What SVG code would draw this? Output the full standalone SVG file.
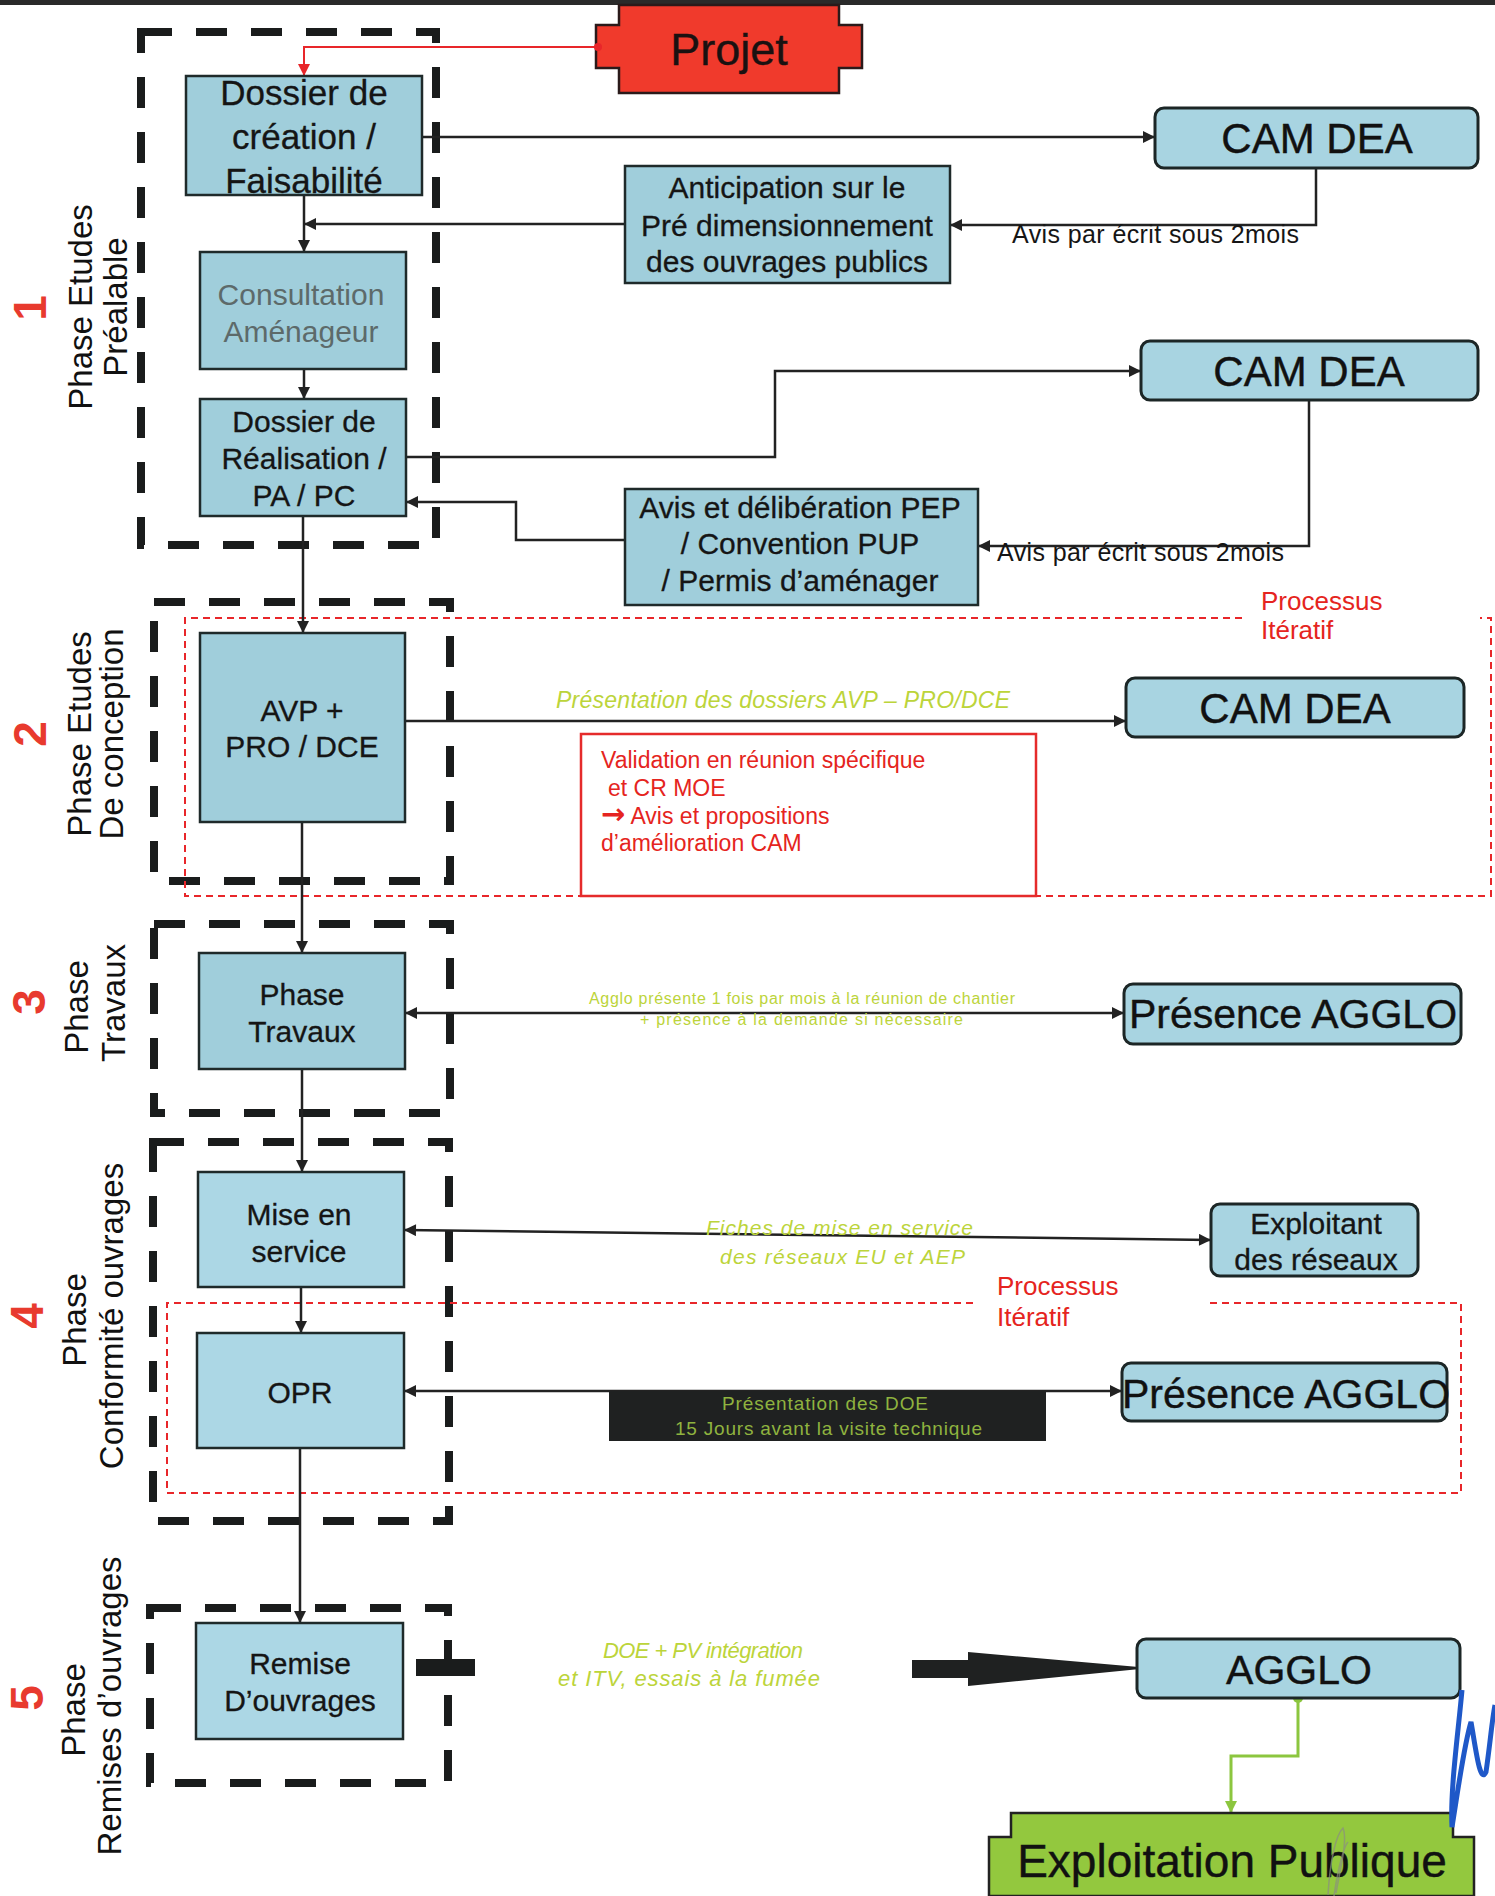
<svg xmlns="http://www.w3.org/2000/svg" width="1495" height="1896" viewBox="0 0 1495 1896">
<style>
text{font-family:"Liberation Sans",Arial,sans-serif;}
.bx{fill:#a0cedb;stroke:#1f2a2a;stroke-width:2.5;}
.bxl{fill:#acd7e5;stroke:#1f2a2a;stroke-width:2.5;}
.rb{fill:#a8d4e1;stroke:#1c2626;stroke-width:3;}
.t30{font-size:30px;fill:#151515;text-anchor:middle;stroke:#151515;stroke-width:0.3;}
.t35{font-size:35px;fill:#151515;text-anchor:middle;stroke:#151515;stroke-width:0.3;}
.big{font-size:42px;fill:#111;text-anchor:middle;stroke:#111;stroke-width:0.4;}
.ph{fill:none;stroke:#1a1c1c;stroke-width:8;stroke-dasharray:31 24;}
.it{fill:none;stroke:#e8262a;stroke-width:2;stroke-dasharray:7 5;}
.c{fill:none;stroke:#222;stroke-width:2.5;}
.lab{font-size:33px;fill:#111;text-anchor:middle;}
.num{font-size:46px;font-weight:bold;fill:#e83a2e;text-anchor:middle;}
.grn{fill:#bcd43a;}
.red{fill:#e52420;}
</style>
<defs>
<marker id="a" viewBox="0 0 10 10" refX="10" refY="5" markerWidth="14" markerHeight="12" markerUnits="userSpaceOnUse" orient="auto-start-reverse"><path d="M0,0 L10,5 L0,10 z" fill="#222"/></marker>
<marker id="ar" viewBox="0 0 10 10" refX="10" refY="5" markerWidth="14" markerHeight="12" markerUnits="userSpaceOnUse" orient="auto-start-reverse"><path d="M0,0 L10,5 L0,10 z" fill="#e8262a"/></marker>
<marker id="ag" viewBox="0 0 10 10" refX="10" refY="5" markerWidth="14" markerHeight="12" markerUnits="userSpaceOnUse" orient="auto-start-reverse"><path d="M0,0 L10,5 L0,10 z" fill="#8cc63f"/></marker>
</defs>
<rect x="0" y="0" width="1495" height="1896" fill="#ffffff"/>
<rect x="0" y="0" width="1495" height="5" fill="#2a2a2a"/>

<!-- phase frames -->
<g id="phase-frames">
<rect class="ph" x="141" y="32" width="295" height="513"/>
<rect class="ph" x="154" y="602" width="296" height="279"/>
<rect class="ph" x="154" y="924" width="296" height="189"/>
<rect class="ph" x="153" y="1142" width="296" height="379"/>
<rect class="ph" x="150" y="1608" width="298" height="175"/>
<path class="it" d="M1242,618 H185 V896 H1491 V618 H1480"/>
<path class="it" d="M973,1303 H167 V1493 H1461 V1303 H1207"/>
<rect x="416" y="1659" width="59" height="17" fill="#1a1c1c"/>
</g>

<!-- phase labels -->
<g id="phase-labels">
<text class="num" transform="translate(46,308) rotate(-90)">1</text>
<text class="lab" transform="translate(92,307) rotate(-90)">Phase Etudes</text>
<text class="lab" transform="translate(127,307) rotate(-90)">Préalable</text>
<text class="num" transform="translate(46,734) rotate(-90)">2</text>
<text class="lab" transform="translate(91,734) rotate(-90)">Phase Etudes</text>
<text class="lab" transform="translate(123,734) rotate(-90)">De conception</text>
<text class="num" transform="translate(45,1002) rotate(-90)">3</text>
<text class="lab" transform="translate(88,1007) rotate(-90)">Phase</text>
<text class="lab" transform="translate(125,1003) rotate(-90)">Travaux</text>
<text class="num" transform="translate(43,1316) rotate(-90)">4</text>
<text class="lab" transform="translate(86,1320) rotate(-90)">Phase</text>
<text class="lab" transform="translate(123,1316) rotate(-90)">Conformité ouvrages</text>
<text class="num" transform="translate(43,1698) rotate(-90)">5</text>
<text class="lab" transform="translate(85,1710) rotate(-90)">Phase</text>
<text class="lab" transform="translate(121,1706) rotate(-90)">Remises d’ouvrages</text>
</g>

<!-- connectors -->
<g id="connectors">
<path d="M596,47 H304 V76" fill="none" stroke="#e8262a" stroke-width="2" marker-end="url(#ar)"/>
<path class="c" d="M422,137 H1155" marker-end="url(#a)"/>
<path class="c" d="M1316,168 V225 H950" marker-end="url(#a)"/>
<path class="c" d="M625,224 H304" marker-end="url(#a)"/>
<path class="c" d="M304,195 V252" marker-end="url(#a)"/>
<path class="c" d="M304,369 V399" marker-end="url(#a)"/>
<path class="c" d="M406,457 H775 V371 H1141" marker-end="url(#a)"/>
<path class="c" d="M1309,400 V546 H978" marker-end="url(#a)"/>
<path class="c" d="M625,540 H516 V502 H406" marker-end="url(#a)"/>
<path class="c" d="M303,516 V633" marker-end="url(#a)"/>
<path class="c" d="M405,721 H1126" marker-end="url(#a)"/>
<path class="c" d="M302,822 V953" marker-end="url(#a)"/>
<path class="c" d="M405,1013 H1124" marker-start="url(#a)" marker-end="url(#a)"/>
<path class="c" d="M302,1069 V1172" marker-end="url(#a)"/>
<path class="c" d="M404,1230 L1211,1240" marker-start="url(#a)" marker-end="url(#a)"/>
<path class="c" d="M301,1287 V1333" marker-end="url(#a)"/>
<path class="c" d="M404,1391 H1122" marker-start="url(#a)" marker-end="url(#a)"/>
<path class="c" d="M300,1448 V1623" marker-end="url(#a)"/>
<polygon points="912,1660 968,1660 968,1652 1150,1668 968,1686 968,1678 912,1678" fill="#1f2121"/>
<path d="M1137,1668 H1151" stroke="#1f2121" stroke-width="2"/>
<path d="M1298,1698 V1756 H1231 V1813" fill="none" stroke="#8cc63f" stroke-width="3" marker-end="url(#ag)"/>
<circle cx="1298" cy="1698" r="5" fill="#8cc63f"/>
</g>

<!-- connector labels -->
<g id="labels">
<text x="1012" y="243" font-size="25" fill="#151515" textLength="287">Avis par écrit sous 2mois</text>
<text x="997" y="561" font-size="25" fill="#151515" textLength="287">Avis par écrit sous 2mois</text>
<text x="1261" y="610" font-size="26" class="red">Processus</text>
<text x="1261" y="639" font-size="26" class="red">Itératif</text>
<text x="997" y="1295" font-size="26" class="red">Processus</text>
<text x="997" y="1326" font-size="26" class="red">Itératif</text>
<text x="556" y="708" font-size="23" font-style="italic" class="grn" textLength="454">Présentation des dossiers AVP – PRO/DCE</text>
<text x="589" y="1004" font-size="16" class="grn" textLength="426">Agglo présente 1 fois par mois à la réunion de chantier</text>
<text x="640" y="1025" font-size="16" class="grn" textLength="323">+ présence à la demande si nécessaire</text>
<text x="706" y="1235" font-size="21" font-style="italic" class="grn" textLength="267">Fiches de mise en service</text>
<text x="720" y="1264" font-size="21" font-style="italic" class="grn" textLength="245">des réseaux EU et AEP</text>
<g id="doe-note">
<rect x="609" y="1391" width="437" height="50" fill="#1f2121"/>
<text x="722" y="1410" font-size="19" fill="#8fb33f" textLength="206">Présentation des DOE</text>
<text x="675" y="1435" font-size="19" fill="#8fb33f" textLength="307">15 Jours avant la visite technique</text>
</g>
<text x="603" y="1658" font-size="22" font-style="italic" class="grn" textLength="200">DOE + PV intégration</text>
<text x="558" y="1686" font-size="22" font-style="italic" class="grn" textLength="262">et ITV, essais à la fumée</text>
</g>

<!-- nodes -->
<g id="projet">
<path d="M619,5 H839 V25 H862 V68 H839 V93 H619 V68 H596 V25 H619 Z" fill="#f03a2c" stroke="#2a1a1a" stroke-width="2.5"/>
<circle cx="598" cy="47" r="4" fill="#e8262a"/>
<text x="729" y="65" font-size="45" fill="#1a1111" stroke="#1a1111" stroke-width="0.4" text-anchor="middle">Projet</text>
</g>
<g id="dossier-creation">
<rect class="bx" x="186" y="76" width="236" height="119"/>
<text class="t35" x="304" y="105">Dossier de</text>
<text class="t35" x="304" y="149">création /</text>
<text class="t35" x="304" y="193">Faisabilité</text>
</g>
<g id="consultation">
<rect class="bx" x="200" y="252" width="206" height="117"/>
<text class="t30" x="301" y="305" style="fill:#5d6a6a;stroke:none">Consultation</text>
<text class="t30" x="301" y="342" style="fill:#5d6a6a;stroke:none">Aménageur</text>
</g>
<g id="dossier-realisation">
<rect class="bx" x="200" y="399" width="206" height="117"/>
<text class="t30" x="304" y="432">Dossier de</text>
<text class="t30" x="304" y="469">Réalisation /</text>
<text class="t30" x="304" y="506">PA / PC</text>
</g>
<g id="anticipation">
<rect class="bx" x="625" y="166" width="325" height="117"/>
<text class="t30" x="787" y="198">Anticipation sur le</text>
<text class="t30" x="787" y="236">Pré dimensionnement</text>
<text class="t30" x="787" y="272">des ouvrages publics</text>
</g>
<g id="avis-deliberation">
<rect class="bx" x="625" y="489" width="353" height="116"/>
<text class="t30" x="800" y="518">Avis et délibération PEP</text>
<text class="t30" x="800" y="554">/ Convention PUP</text>
<text class="t30" x="800" y="591">/ Permis d’aménager</text>
</g>
<g id="cam-dea-1">
<rect class="rb" x="1155" y="108" width="323" height="60" rx="9"/>
<text class="big" x="1317" y="153">CAM DEA</text>
</g>
<g id="cam-dea-2">
<rect class="rb" x="1141" y="341" width="337" height="59" rx="9"/>
<text class="big" x="1309" y="386">CAM DEA</text>
</g>
<g id="avp">
<rect class="bx" x="200" y="633" width="205" height="189"/>
<text class="t30" x="302" y="721">AVP +</text>
<text class="t30" x="302" y="757">PRO / DCE</text>
</g>
<g id="cam-dea-3">
<rect class="rb" x="1126" y="678" width="338" height="59" rx="9"/>
<text class="big" x="1295" y="723">CAM DEA</text>
</g>
<g id="validation">
<rect x="581" y="734" width="455" height="162" fill="none" stroke="#e52b2b" stroke-width="2.5"/>
<text x="601" y="768" font-size="23" class="red">Validation en réunion spécifique</text>
<text x="608" y="796" font-size="23" class="red">et CR MOE</text>
<text x="601" y="824" font-size="23" class="red"><tspan font-family="DejaVu Sans, sans-serif" font-weight="bold" font-size="29">→</tspan> Avis et propositions</text>
<text x="601" y="851" font-size="23" class="red">d’amélioration CAM</text>
</g>
<g id="phase-travaux">
<rect class="bx" x="199" y="953" width="206" height="116"/>
<text class="t30" x="302" y="1005">Phase</text>
<text class="t30" x="302" y="1042">Travaux</text>
</g>
<g id="presence-agglo-1">
<rect class="rb" x="1124" y="984" width="337" height="60" rx="9"/>
<text class="big" x="1293" y="1028" style="font-size:41px">Présence AGGLO</text>
</g>
<g id="mise-en-service">
<rect class="bxl" x="198" y="1172" width="206" height="115"/>
<text class="t30" x="299" y="1225">Mise en</text>
<text class="t30" x="299" y="1262">service</text>
</g>
<g id="exploitant">
<rect class="rb" x="1211" y="1204" width="207" height="72" rx="9"/>
<text class="t30" x="1316" y="1234">Exploitant</text>
<text class="t30" x="1316" y="1270">des réseaux</text>
</g>
<g id="opr">
<rect class="bxl" x="197" y="1333" width="207" height="115"/>
<text class="t30" x="300" y="1403">OPR</text>
</g>
<g id="presence-agglo-2">
<rect class="rb" x="1122" y="1363" width="325" height="58" rx="9"/>
<text class="big" x="1286" y="1408" style="font-size:41px">Présence AGGLO</text>
</g>
<g id="remise">
<rect class="bxl" x="196" y="1623" width="207" height="116"/>
<text class="t30" x="300" y="1674">Remise</text>
<text class="t30" x="300" y="1711">D’ouvrages</text>
</g>
<g id="agglo">
<rect class="rb" x="1137" y="1639" width="323" height="59" rx="9"/>
<text class="big" x="1299" y="1684" style="font-size:41px">AGGLO</text>
</g>
<g id="exploitation-publique">
<path d="M1011,1813 H1453 V1837 H1474 V1896 H989 V1837 H1011 Z" fill="#93c83e" stroke="#222" stroke-width="2.5"/>
<text x="1232" y="1877" font-size="46" fill="#111" stroke="#111" stroke-width="0.4" text-anchor="middle">Exploitation Publique</text>
</g>
<g id="signature">
<path d="M1462,1690 C1458,1735 1450,1790 1452,1827 C1458,1790 1464,1745 1471,1722 C1476,1750 1480,1785 1486,1772 C1490,1745 1492,1720 1495,1705" fill="none" stroke="#1f58c8" stroke-width="5"/>
<path d="M1328,1895 C1330,1860 1336,1835 1343,1828 C1348,1840 1340,1870 1336,1893 M1334,1896 C1338,1868 1344,1846 1348,1842" fill="none" stroke="#8a8f80" stroke-width="1.5" opacity="0.7"/>
</g>
</svg>
